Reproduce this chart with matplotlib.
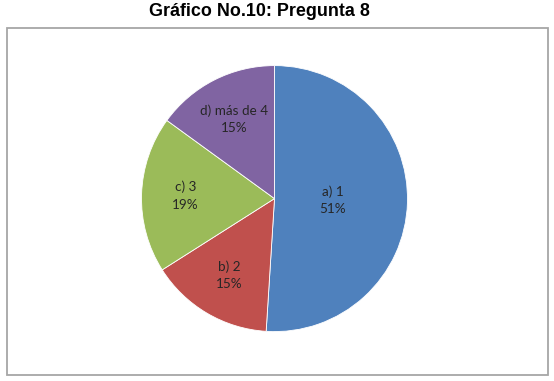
import matplotlib
matplotlib.use("Agg")
import matplotlib.pyplot as plt
from matplotlib.patches import Rectangle

categories = ["a) 1", "b) 2", "c) 3", "d) más de 4"]
values = [51, 15, 19, 15]
colors = ["#4F81BD", "#C0504D", "#9BBB59", "#8064A2"]
title = "Gráfico No.10: Pregunta 8"

W, H = 554, 381
fig = plt.figure(figsize=(W / 100, H / 100), dpi=100)

# outer chart border
fig.patches.append(Rectangle((6.5 / W, (H - 374.5) / H), 541.5 / W, 347 / H,
                             transform=fig.transFigure, fill=False,
                             edgecolor="#A6A6A6", linewidth=1.3))

fig.text(259 / W, 1 - 11 / H, title, ha="center", va="center",
         fontsize=12.9, fontweight="bold", family="Liberation Sans")

cx, cy, r = 274.5, 198.6, 133
ax = fig.add_axes([(cx - r) / W, (H - cy - r) / H, 2 * r / W, 2 * r / H])

idx = {"i": 0}
def fmt(p):
    i = idx["i"]
    idx["i"] += 1
    return f"{categories[i]}\n{values[i]}%"

wedges, texts, autotexts = ax.pie(values, colors=colors, startangle=90,
                                  counterclock=False, autopct=fmt,
                                  pctdistance=0.67, radius=1,
                                  wedgeprops=dict(edgecolor="white", linewidth=0.6),
                                  textprops=dict(fontsize=9.7, family="Lato",
                                                 color="#262626",
                                                 linespacing=1.55))
# first label sits closer to the centre in the reference
x, y = autotexts[0].get_position()
autotexts[0].set_position((x * 0.44 / 0.67, y * 0.44 / 0.67))
ax.set_xlim(-1, 1)
ax.set_ylim(-1, 1)
ax.set_aspect("equal")
ax.axis("off")

fig.savefig("out.png", dpi=100)
